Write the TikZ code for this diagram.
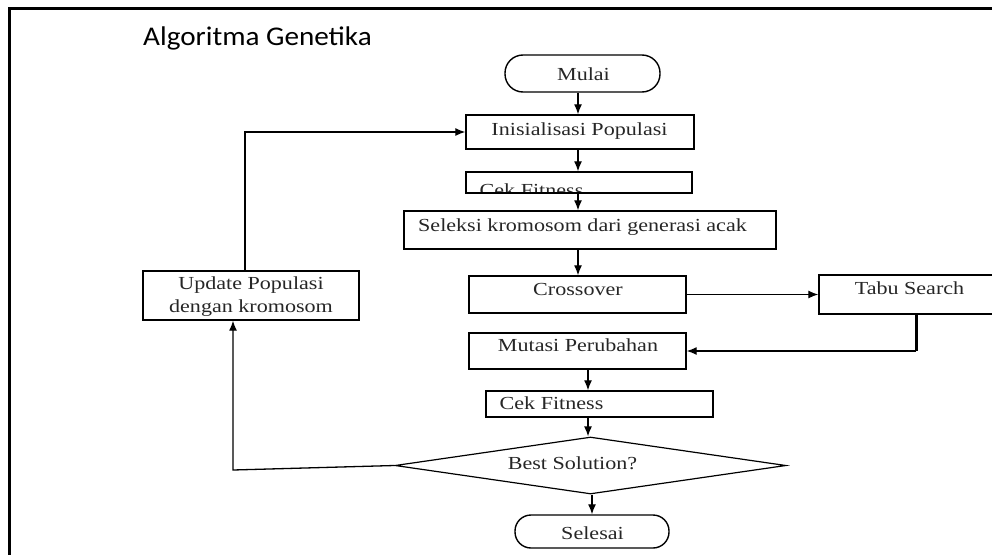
\documentclass[tikz,border=0pt]{standalone}
\usepackage{fontspec}
\usetikzlibrary{shapes.geometric,arrows.meta}
\newfontfamily\titlefont[FakeStretch=1.08]{Carlito}
\newfontfamily\boxfont[FakeStretch=1.2]{Liberation Serif}
\begin{document}
\begin{tikzpicture}[x=1pt,y=-1pt,
  box/.style={draw=black, line width=1.4pt, rectangle, inner sep=0pt},
  term/.style={draw=black, line width=1.4pt, rectangle, rounded corners=18pt, inner sep=0pt},
  txt/.style={inner sep=0pt, anchor=base, font=\boxfont\fontsize{18.4}{22}\selectfont, text=black!85},
  arr/.style={line width=1.3pt, -{Latex[length=10pt,width=8pt]}},
  ln/.style={line width=1.3pt}]
\useasboundingbox (0,0) rectangle (992,554);
\clip (0,0) rectangle (992,554);
% frame
\draw[line width=3pt, black] (9,560) -- (9,8) -- (1000,8);
\node[inner sep=0pt, anchor=base west, font=\titlefont\fontsize{27}{32}\selectfont] (title) at (143,45) {Algoritma Genetika};

% shapes
\node[term, minimum width=155pt, minimum height=37pt] (mulai) at (582.5,73.5) {};
\node[box, minimum width=228pt, minimum height=34pt] (inis) at (580,132) {};
\begin{scope}
\clip (467,173) rectangle (691,192);
\node[txt] (cek1t) at (531.5,196) {Cek Fitness};
\end{scope}
\node[box, minimum width=226pt, minimum height=21pt] (cek1) at (579,182.5) {};
\node[box, minimum width=372pt, minimum height=38pt] (sel) at (590,230) {};
\node[box, minimum width=217pt, minimum height=37pt] (cross) at (577.5,294.5) {};
\node[box, minimum width=190pt, minimum height=39pt] (tabu) at (914,294.5) {};
\node[box, minimum width=217pt, minimum height=36pt] (mut) at (577.5,351) {};
\node[box, minimum width=227pt, minimum height=26pt] (cek2) at (599.5,404) {};
\node[draw=black, line width=1.2pt, diamond, minimum width=391pt, minimum height=57pt, inner sep=0pt] (dec) at (590.5,465.5) {};
\node[term, minimum width=154pt, minimum height=33pt, rounded corners=16pt] (sel2) at (592,531.5) {};
\node[box, minimum width=216pt, minimum height=49pt] (upd) at (251,295.5) {};

% texts
\node[txt] (mulait) at (583.5,80) {Mulai};
\node[txt] (inist) at (579.5,135) {Inisialisasi Populasi};
\node[txt] (selt) at (582.5,231) {Seleksi kromosom dari generasi acak};
\node[txt] (crosst) at (578,295) {Crossover};
\node[txt] (tabut) at (909.5,294) {Tabu Search};
\node[txt] (mutt) at (578,351) {Mutasi Perubahan};
\node[txt] (cek2t) at (551.5,409) {Cek Fitness};
\node[txt] (updt1) at (251,289) {Update Populasi};
\node[txt] (updt2) at (251,312) {dengan kromosom};
\node[txt] (dect) at (572.5,469) {Best Solution?};
\node[txt] (sel2t) at (592.5,539) {Selesai};

% column coordinates
\coordinate (xa) at (578,0);
\coordinate (xb) at (588,0);
\coordinate (xc) at (592,0);
\coordinate (xu) at (245,0);
\coordinate (corner) at (233,470);
\coordinate (tb) at (916,351);

% connectors
\draw[arr] (mulai.south -| xa) -- (inis.north -| xa);
\draw[arr] (inis.south -| xa) -- (cek1.north -| xa);
\draw[arr] (cek1.south -| xa) -- (sel.north -| xa);
\draw[arr] (sel.south -| xa) -- (cross.north -| xa);
\draw[arr] (cross.east) -- (tabu.west);
\draw[line width=3pt] (tabu.south -| tb) -- (tb);
\draw[arr] (tb) -- (mut.east);
\draw[arr] (mut.south -| xb) -- (cek2.north -| xb);
\draw[arr] (cek2.south -| xb) -- (dec.north -| xb);
\draw[arr] (dec.south -| xc) -- (sel2.north -| xc);
\draw[arr] (dec.west) -- (corner) -- (corner |- upd.south);
\draw[arr] (upd.north -| xu) -- (xu |- inis.west) -- (inis.west);
\end{tikzpicture}
\end{document}
